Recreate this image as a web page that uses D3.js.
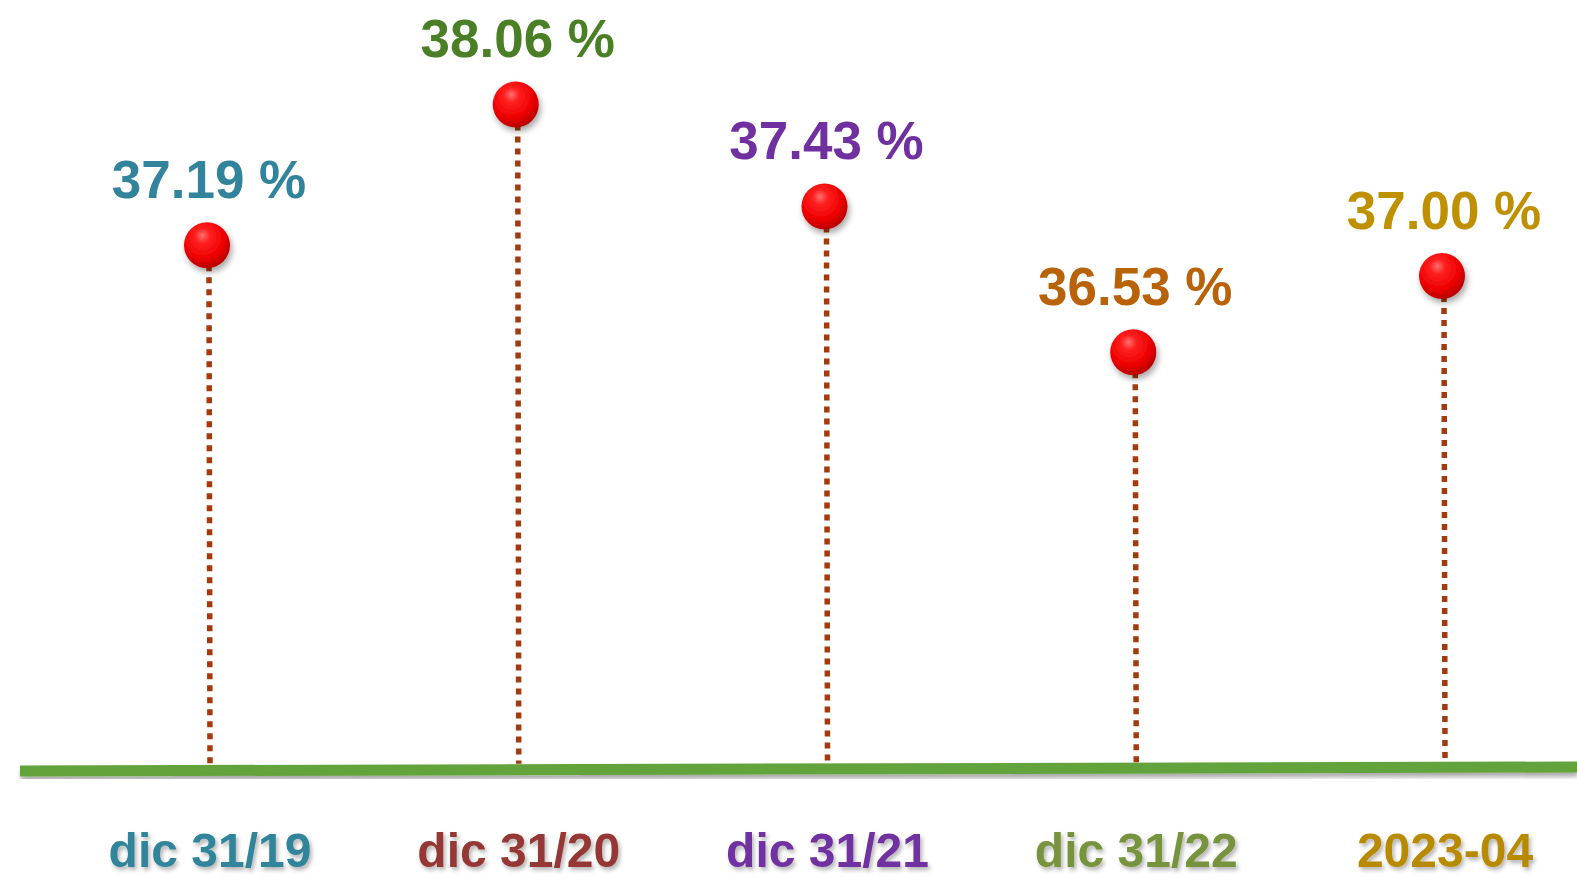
<!DOCTYPE html>
<html>
<head>
<meta charset="utf-8">
<script src="https://cdn.jsdelivr.net/npm/d3@7"></script>
<style>
  html, body { margin: 0; padding: 0; background: #ffffff; }
  svg { display: block; }
</style>
</head>
<body>
<svg id="chart" width="1577" height="878"></svg>
<script>
const categories = ["dic 31/19", "dic 31/20", "dic 31/21", "dic 31/22", "2023-04"];
const values = [37.19, 38.06, 37.43, 36.53, 37.00];
const valueLabels = ["37.19 %", "38.06 %", "37.43 %", "36.53 %", "37.00 %"];
const valueColors = ["#31849b", "#4a7f26", "#7030a0", "#b8620a", "#bf9000"];
const categoryColors = ["#31849b", "#953735", "#7030a0", "#77933c", "#b88a00"];

const svg = d3.select("#chart");
const defs = svg.append("defs");

const grad = defs.append("radialGradient")
  .attr("id", "pinGrad").attr("cx", "42%").attr("cy", "35%").attr("r", "65%")
  .attr("fx", "40%").attr("fy", "28%");
grad.append("stop").attr("offset", "0%").attr("stop-color", "#ff7070");
grad.append("stop").attr("offset", "25%").attr("stop-color", "#ff2020");
grad.append("stop").attr("offset", "70%").attr("stop-color", "#ee0000");
grad.append("stop").attr("offset", "100%").attr("stop-color", "#b80000");

const pinShadow = defs.append("filter").attr("id", "pinShadow")
  .attr("x", "-50%").attr("y", "-50%").attr("width", "200%").attr("height", "200%");
pinShadow.append("feDropShadow").attr("dx", 2).attr("dy", 4).attr("stdDeviation", 3)
  .attr("flood-color", "#000").attr("flood-opacity", 0.35);

const textShadow = defs.append("filter").attr("id", "textShadow")
  .attr("x", "-20%").attr("y", "-30%").attr("width", "140%").attr("height", "160%");
textShadow.append("feDropShadow").attr("dx", 2).attr("dy", 3).attr("stdDeviation", 2)
  .attr("flood-color", "#000").attr("flood-opacity", 0.3);

const lineShadow = defs.append("filter").attr("id", "lineShadow")
  .attr("x", "-5%").attr("y", "-200%").attr("width", "110%").attr("height", "500%");
lineShadow.append("feDropShadow").attr("dx", 1).attr("dy", 4).attr("stdDeviation", 2.5)
  .attr("flood-color", "#000").attr("flood-opacity", 0.35);

const x = d3.scalePoint().domain(categories).range([207, 1442]);
const y = d3.scaleLinear().domain([36.5, 38.1]).range([357, 98]);

const data = categories.map((c, i) => ({ c, v: values[i], label: valueLabels[i], vc: valueColors[i], cc: categoryColors[i] }));

// baseline
const baseLeft = 771, baseRight = 767;
svg.append("line")
  .attr("x1", 20).attr("y1", baseLeft).attr("x2", 1577).attr("y2", baseRight)
  .attr("stroke", "#62a33a").attr("stroke-width", 11)
  .attr("filter", "url(#lineShadow)");

const baseAt = xx => baseLeft + (baseRight - baseLeft) * (xx - 20) / (1577 - 20);

// dotted stems
svg.append("g").selectAll("line").data(data).join("line")
  .attr("x1", d => x(d.c) + 2).attr("y1", d => y(d.v) + 20)
  .attr("x2", d => x(d.c) + 3).attr("y2", d => baseAt(x(d.c)) - 6)
  .attr("stroke", "#a33a0e").attr("stroke-width", 5.5)
  .attr("stroke-dasharray", "6 6");

// pins
svg.append("g").selectAll("circle").data(data).join("circle")
  .attr("cx", d => x(d.c)).attr("cy", d => y(d.v)).attr("r", 23)
  .attr("fill", "url(#pinGrad)")
  .attr("filter", "url(#pinShadow)");

// value labels
svg.append("g").selectAll("text").data(data).join("text")
  .attr("x", d => x(d.c) + 2).attr("y", d => y(d.v) - 47)
  .attr("text-anchor", "middle")
  .attr("font-family", "'Liberation Sans', Arial, sans-serif")
  .attr("font-weight", "bold").attr("font-size", 53)
  .attr("fill", d => d.vc)
  .text(d => d.label);

// category labels
svg.append("g").selectAll("text").data(data).join("text")
  .attr("x", d => x(d.c) + 3).attr("y", 867)
  .attr("text-anchor", "middle")
  .attr("font-family", "'Liberation Sans', Arial, sans-serif")
  .attr("font-weight", "bold").attr("font-size", 48)
  .attr("fill", d => d.cc)
  .attr("filter", "url(#textShadow)")
  .text(d => d.c);
</script>
</body>
</html>
